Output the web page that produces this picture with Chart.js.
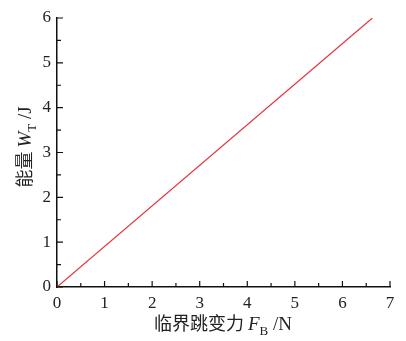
<!DOCTYPE html>
<html>
<head>
<meta charset="utf-8">
<script src="https://cdn.jsdelivr.net/npm/chart.js@4/dist/chart.umd.min.js"></script>
<style>
  html, body { margin: 0; padding: 0; background: #fff; }
  #wrap { width: 406px; height: 341px; }
</style>
</head>
<body>
<div id="wrap"><canvas id="chart" width="406" height="341"></canvas></div>
<script>
// data
const forceValues = [0, 6.63];   // 临界跳变力 F_B /N
const energyValues = [0, 6];     // 能量 W_T /J
const xTicks = [0, 1, 2, 3, 4, 5, 6, 7];
const yTicks = [0, 1, 2, 3, 4, 5, 6];

const serif = '"Liberation Serif", "DejaVu Serif", serif';
const cjk = '"Noto Sans CJK SC", sans-serif';

// inward major/minor ticks + axis titles with subscripts
const axisDecor = {
  id: 'axisDecor',
  afterDraw(chart) {
    const { ctx, chartArea: a, scales: { x, y } } = chart;
    ctx.save();
    ctx.strokeStyle = '#111';
    ctx.lineWidth = 1.2;
    ctx.beginPath();
    for (let v = 0; v <= 7; v += 0.5) {
      const px = x.getPixelForValue(v);
      const len = Number.isInteger(v) ? 6 : 4;
      ctx.moveTo(px, a.bottom);
      ctx.lineTo(px, a.bottom - len);
    }
    for (let v = 0; v <= 6; v += 0.5) {
      const py = y.getPixelForValue(v);
      const len = Number.isInteger(v) ? 6 : 4;
      ctx.moveTo(a.left, py);
      ctx.lineTo(a.left + len, py);
    }
    ctx.stroke();

    ctx.fillStyle = '#222';
    ctx.textBaseline = 'alphabetic';

    const parts = (runs) => runs.map(r => { ctx.font = r.font; return ctx.measureText(r.text).width; });

    // x title
    const xRuns = [
      { text: '临界跳变力 ', font: '18px ' + cjk, dy: 0 },
      { text: 'F', font: 'italic 19px ' + serif, dy: 0 },
      { text: 'B', font: '13px ' + serif, dy: 5 },
      { text: ' /N', font: '19px ' + serif, dy: 0 }
    ];
    let widths = parts(xRuns);
    let total = widths.reduce((s, w) => s + w, 0);
    let cx = 223 - total / 2;
    const base = 330;
    xRuns.forEach((r, i) => {
      ctx.font = r.font;
      ctx.fillText(r.text, cx, base + r.dy);
      cx += widths[i];
    });

    // y title (rotated)
    const yRuns = [
      { text: '能量 ', font: '18px ' + cjk, dy: 0 },
      { text: 'W', font: 'italic 19px ' + serif, dy: 0 },
      { text: 'T', font: '13px ' + serif, dy: 5 },
      { text: ' /J', font: '19px ' + serif, dy: 0 }
    ];
    widths = parts(yRuns);
    total = widths.reduce((s, w) => s + w, 0);
    ctx.translate(31, 147);
    ctx.rotate(-Math.PI / 2);
    cx = -total / 2;
    yRuns.forEach((r, i) => {
      ctx.font = r.font;
      ctx.fillText(r.text, cx, r.dy);
      cx += widths[i];
    });
    ctx.restore();
  }
};

new Chart(document.getElementById('chart'), {
  type: 'scatter',
  data: {
    datasets: [{
      data: forceValues.map((f, i) => ({ x: f, y: energyValues[i] })),
      showLine: true,
      borderColor: '#e8303a',
      borderWidth: 1.2,
      pointRadius: 0,
      fill: false
    }]
  },
  options: {
    responsive: false,
    animation: false,
    layout: { padding: { top: 18, right: 16, left: 0, bottom: 0 } },
    plugins: { legend: { display: false }, tooltip: { enabled: false } },
    scales: {
      x: {
        type: 'linear',
        min: 0, max: 7,
        afterBuildTicks: s => { s.ticks = xTicks.map(v => ({ value: v })); },
        afterFit: s => { s.height = 54; },
        grid: { display: false, drawTicks: false },
        border: { color: '#111', width: 1.5 },
        ticks: { color: '#222', padding: 6, font: { family: serif, size: 17 } }
      },
      y: {
        type: 'linear',
        min: 0, max: 6,
        afterBuildTicks: s => { s.ticks = yTicks.map(v => ({ value: v })); },
        afterFit: s => { s.width = 57; },
        grid: { display: false, drawTicks: false },
        border: { color: '#111', width: 1.5 },
        ticks: { color: '#222', padding: 6, font: { family: serif, size: 17 } }
      }
    }
  },
  plugins: [axisDecor]
});
</script>
</body>
</html>
